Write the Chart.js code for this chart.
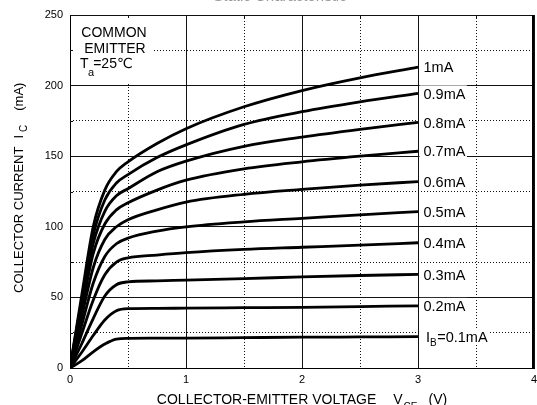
<!DOCTYPE html>
<html>
<head>
<meta charset="utf-8">
<script src="https://cdn.jsdelivr.net/npm/chart.js@4/dist/chart.umd.min.js"></script>
<style>
html,body{margin:0;padding:0;background:#fff;overflow:hidden}
#wrap{position:relative;width:537px;height:405px;overflow:hidden}
#c{position:absolute;left:0;top:0}
#ttl{position:absolute;left:0;top:-13px;width:560px;text-align:center;color:#999;font:15px "Liberation Sans",Arial,sans-serif}
</style>
</head>
<body>
<div id="wrap"><canvas id="c" width="537" height="405"></canvas><div id="ttl">Static Characteristic</div></div>
<script>
// Collector-emitter voltage (V)
const VCE = [0, 0.1, 0.2, 0.3, 0.4, 0.5, 0.75, 1, 1.5, 2, 2.5, 3];
// Collector current (mA) for each base current
const IC_1_0 = [0, 51, 100, 126, 139, 146, 159, 169.5, 185, 196.5, 205.5, 213];
const IC_0_9 = [0, 48, 94, 119, 131, 137, 149, 158, 172.5, 181.5, 188.5, 194.5];
const IC_0_8 = [0, 45, 88, 111, 122, 127, 139, 146.5, 157, 163.5, 169, 174];
const IC_0_7 = [0, 41, 81, 102, 112, 117, 126, 133, 141, 146, 150, 153.5];
const IC_0_6 = [0, 36, 71, 91, 100, 105, 112, 117.5, 123, 126.5, 129.5, 132];
const IC_0_5 = [0, 30, 60, 79, 88, 92, 97, 100, 103.5, 106, 108.5, 110.7];
const IC_0_4 = [0, 24, 48, 66, 75, 78, 80, 81.7, 84, 85.5, 87, 88.7];
const IC_0_3 = [0, 17, 35, 51, 59, 61, 61.7, 62.3, 63.3, 64.5, 65.5, 66.3];
const IC_0_2 = [0, 11, 23, 34, 40.5, 42, 42.2, 42.4, 42.7, 43, 43.5, 44];
const IC_0_1 = [0, 5, 11.5, 17, 20.5, 21, 21.1, 21.2, 21.5, 21.8, 22, 22.2];
const SERIES = [IC_1_0, IC_0_9, IC_0_8, IC_0_7, IC_0_6, IC_0_5, IC_0_4, IC_0_3, IC_0_2, IC_0_1];
const SERIES_LABELS = ['1mA', '0.9mA', '0.8mA', '0.7mA', '0.6mA', '0.5mA', '0.4mA', '0.3mA', '0.2mA', '=0.1mA'];
const X_TICKS = [0, 1, 2, 3, 4];
const Y_TICKS = [0, 50, 100, 150, 200, 250];

const FAM = '"Liberation Sans", Arial, "DejaVu Sans", "Noto Sans CJK SC", sans-serif';
const F = s => s + 'px ' + FAM;

function drawParts(ctx, parts, x, y, align) {
  let total = 0;
  parts.forEach(p => { ctx.font = p.f; p.w = ctx.measureText(p.t).width; total += (p.g || 0) + p.w; });
  let cx = align === 'center' ? x - total / 2 : x;
  parts.forEach(p => {
    cx += (p.g || 0);
    ctx.font = p.f;
    ctx.fillText(p.t, cx, y + (p.dy || 0));
    cx += p.w;
  });
  return total;
}

const annot = {
  id: 'annot',
  afterDraw(chart) {
    const { ctx, chartArea, scales } = chart;
    const xs = scales.x, ys = scales.y;
    ctx.save();
    ctx.textAlign = 'left';
    ctx.textBaseline = 'alphabetic';
    // COMMON EMITTER box
    ctx.fillStyle = '#fff';
    ctx.fillRect(chartArea.left + 1.5, chartArea.top + 1.5, 82, 66);
    // right frame edge at the x-axis maximum
    ctx.fillStyle = '#000';
    const xr = Math.round(chartArea.right);
    ctx.fillRect(xr - 2, Math.round(chartArea.top), 2, Math.round(chartArea.bottom - chartArea.top) + 1);
    // small inner minor ticks on top and left borders
    ctx.strokeStyle = '#111';
    ctx.lineWidth = 1;
    ctx.beginPath();
    xs.ticks.forEach(t => {
      if (!isMultiple(t.value, 1)) {
        const px = Math.round(xs.getPixelForValue(t.value)) + 0.5;
        ctx.moveTo(px, chartArea.top); ctx.lineTo(px, chartArea.top + 3);
      }
    });
    ys.ticks.forEach(t => {
      if (!isMultiple(t.value, 50)) {
        const py = Math.round(ys.getPixelForValue(t.value)) + 0.5;
        ctx.moveTo(chartArea.left, py); ctx.lineTo(chartArea.left + 3, py);
      }
    });
    ctx.stroke();

    ctx.fillStyle = '#000';
    drawParts(ctx, [{ t: 'COMMON', f: F(14) }], 114, 36.5, 'center');
    drawParts(ctx, [{ t: 'EMITTER', f: F(14) }], 115, 52.5, 'center');
    drawParts(ctx, [{ t: 'T', f: F(14) }, { t: 'a', f: F(11), dy: 7.5, g: -0.5 }, { t: '=25\u2103', f: F(14), g: -1 }], 80, 68.3, 'left');

    // curve labels
    const x3 = xs.getPixelForValue(VCE[VCE.length - 1]);
    SERIES.forEach((s, i) => {
      const yc = ys.getPixelForValue(s[s.length - 1]);
      let parts;
      if (i === SERIES.length - 1) {
        parts = [{ t: 'I', f: F(14.5) }, { t: 'B', f: F(10), dy: 4 }, { t: SERIES_LABELS[i], f: F(14.5), g: 0.5 }];
      } else {
        parts = [{ t: SERIES_LABELS[i], f: F(14.5) }];
      }
      let w = 0;
      parts.forEach(p => { ctx.font = p.f; w += ctx.measureText(p.t).width + (p.g || 0); });
      const x0 = x3 + (i === SERIES.length - 1 ? 8 : 5.5);
      ctx.fillStyle = '#fff';
      ctx.fillRect(x3 + 1.5, yc - 8, (x0 - x3) + w, 16);
      ctx.fillStyle = '#000';
      drawParts(ctx, parts, x0, yc + 5.2, 'left');
    });

    // x axis title
    const cxm = (chartArea.left + chartArea.right) / 2;
    drawParts(ctx, [
      { t: 'COLLECTOR-EMITTER VOLTAGE', f: F(14) },
      { t: 'V', f: F(14), g: 17 },
      { t: 'CE', f: F(10), dy: 6, g: 1 },
      { t: '(V)', f: F(14), g: 11 }
    ], cxm, 403.5, 'center');

    // y axis title (rotated)
    ctx.translate(22.5, 293);
    ctx.rotate(-Math.PI / 2);
    drawParts(ctx, [
      { t: 'COLLECTOR CURRENT', f: F(13) },
      { t: 'I', f: F(13), g: 8 },
      { t: 'C', f: F(10), dy: 4.5, g: 3 },
      { t: '(mA)', f: F(13), g: 14 }
    ], 0, 0, 'left');
    ctx.restore();
  }
};

const datasets = SERIES.map((s, i) => ({
  label: SERIES_LABELS[i],
  data: VCE.map((v, j) => ({ x: v, y: s[j] })),
  borderColor: '#000',
  borderWidth: 2.8,
  pointRadius: 0,
  fill: false,
  cubicInterpolationMode: 'monotone'
}));

function isMultiple(v, step) { return Math.abs(v / step - Math.round(v / step)) < 1e-6; }
const majorColor = (ctx, step) => isMultiple(ctx.tick ? ctx.tick.value : 0, step) ? '#111' : 'rgba(0,0,0,0)';
const minorColor = (ctx, step) => isMultiple(ctx.tick ? ctx.tick.value : 0, step) ? 'rgba(0,0,0,0)' : '#111';

new Chart(document.getElementById('c'), {
  type: 'line',
  data: { datasets },
  options: {
    responsive: false,
    animation: false,
    devicePixelRatio: 1,
    layout: { padding: { top: 15, right: 3, left: 0, bottom: 0 } },
    plugins: { legend: { display: false }, tooltip: { enabled: false } },
    scales: {
      x: {
        type: 'linear', min: 0, max: 4,
        afterFit: s => { s.height = 37; s.paddingRight = 0; s.paddingLeft = 0; },
        ticks: {
          stepSize: 0.5, autoSkip: false, padding: 5, color: '#000', font: { size: 11, family: FAM },
          callback: v => X_TICKS.includes(v) ? String(v) : ''
        },
        grid: { color: c => majorColor(c, 1), lineWidth: 1, drawTicks: false },
        border: { color: '#000', width: 1 }
      },
      y: {
        type: 'linear', min: 0, max: 250,
        afterFit: s => { s.width = 70; s.paddingTop = 0; s.paddingBottom = 0; },
        ticks: {
          stepSize: 25, autoSkip: false, padding: 7, color: '#000', font: { size: 11, family: FAM },
          callback: v => Y_TICKS.includes(v) ? String(v) : ''
        },
        grid: { color: c => majorColor(c, 50), lineWidth: 1, drawTicks: false },
        border: { color: '#000', width: 1 }
      },
      xm: {
        type: 'linear', min: 0, max: 4, position: 'bottom',
        afterFit: s => { s.height = 0; s.paddingRight = 0; s.paddingLeft = 0; },
        ticks: { display: false, stepSize: 0.5 },
        grid: { color: c => minorColor(c, 1), lineWidth: 1, drawTicks: false },
        border: { display: false, dash: [1, 2] }
      },
      ym: {
        type: 'linear', min: 0, max: 250, position: 'left',
        afterFit: s => { s.width = 0; s.paddingTop = 0; s.paddingBottom = 0; },
        ticks: { display: false, stepSize: 25 },
        grid: { color: c => minorColor(c, 50), lineWidth: 1, drawTicks: false },
        border: { display: false, dash: [1, 2] }
      }
    }
  },
  plugins: [annot]
});
</script>
</body>
</html>
